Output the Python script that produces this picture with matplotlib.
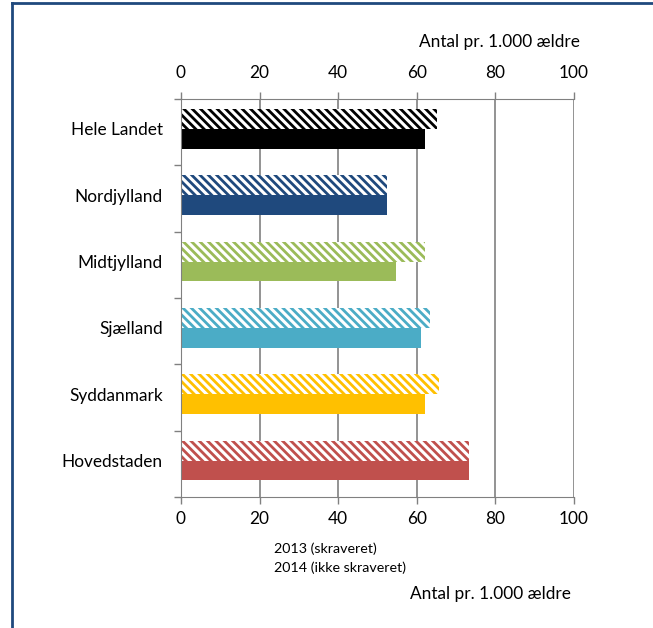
import numpy as np
import matplotlib.pyplot as plt
from matplotlib.lines import Line2D
from matplotlib.transforms import ScaledTranslation

plt.rcParams['font.family'] = ['Lato', 'DejaVu Sans']
plt.rcParams['hatch.linewidth'] = 2.0

# Data
regions = ['Hele Landet', 'Nordjylland', 'Midtjylland', 'Sjælland', 'Syddanmark', 'Hovedstaden']
values_2013 = [65.1, 52.5, 62.1, 63.4, 65.6, 73.4]
values_2014 = [62.1, 52.4, 54.7, 61.1, 62.1, 73.4]
colors = ['#000000', '#1F497D', '#9BBB59', '#4BACC6', '#FFC000', '#C0504D']
xticks = [0, 20, 40, 60, 80, 100]

fs = 12.4

fig = plt.figure(figsize=(6.53, 6.28), dpi=100)
ax = fig.add_axes([181 / 653, 1 - 497 / 628, 393 / 653, 398 / 628])

y = np.arange(len(regions))
h = 0.3
off = -0.05

# 2013 hatched, 2014 solid
ax.barh(y + off - h / 2, values_2013, height=h, color='white', edgecolor=colors,
        hatch='\\\\\\\\', linewidth=0)
ax.barh(y + off + h / 2, values_2014, height=h, color=colors, linewidth=0)

ax.set_xlim(0, 100)
ax.set_ylim(len(regions) - 0.5, -0.5)
ax.set_xticks(xticks)
ax.set_yticks(y + off)
ax.set_yticklabels(regions, fontsize=fs)
ax.set_yticks(np.arange(len(regions) + 1) - 0.5, minor=True)
ax.tick_params(axis='y', which='major', length=0, pad=13)
ax.tick_params(axis='y', which='minor', length=5, color='#808080', width=1)
ax.tick_params(axis='x', top=True, labeltop=True, length=5, color='#808080',
               width=1, labelsize=fs, pad=5)
ax.grid(axis='x', color='#808080', linewidth=1.2)
ax.set_axisbelow(True)
for s in ['left', 'top', 'bottom']:
    ax.spines[s].set_color('#808080')
ax.spines['right'].set_visible(False)

# top labels sit a bit higher
for t in ax.xaxis.get_major_ticks():
    t.label2.set_transform(t.label2.get_transform() + ScaledTranslation(0, 0.04, fig.dpi_scale_trans))

fig.text(580 / 653, 1 - 42 / 628, 'Antal pr. 1.000 ældre', ha='right', va='center', fontsize=fs)
fig.text(571 / 653, 1 - 594 / 628, 'Antal pr. 1.000 ældre', ha='right', va='center', fontsize=fs)
fig.text(274 / 653, 1 - 549 / 628, '2013 (skraveret)', ha='left', va='center', fontsize=10.3)
fig.text(274 / 653, 1 - 568 / 628, '2014 (ikke skraveret)', ha='left', va='center', fontsize=10.3)

# frame lines
fig.add_artist(Line2D([12 / 653, 12 / 653], [0, 1 - 3 / 628], color='#1F497D', linewidth=2))
fig.add_artist(Line2D([12 / 653, 1], [1 - 3 / 628, 1 - 3 / 628], color='#1F497D', linewidth=2))

fig.savefig('out.png', dpi=100)
